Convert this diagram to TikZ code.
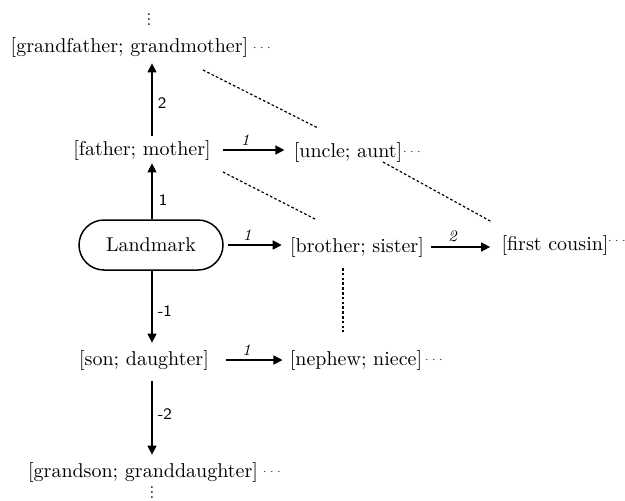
\documentclass[tikz,border=0pt]{standalone}
\usetikzlibrary{arrows.meta}
\begin{document}
\begin{tikzpicture}[x=0.5pt,y=-0.5pt,
  rel/.style={inner sep=0pt, font=\normalsize},
  more/.style={inner sep=0pt, font=\tiny},
  arr/.style={line width=0.75pt, -{Triangle[length=4.5pt,width=4.5pt]}},
  kin/.style={line width=0.6pt, dash pattern=on 1.3pt off 1.1pt},
  gen/.style={font=\sffamily\footnotesize, anchor=west, inner sep=0pt},
  deg/.style={font=\itshape\footnotesize, above, inner sep=2pt, pos=0.36},
  landmark/.style={draw, line width=0.75pt, rounded corners=12.5pt,
    minimum width=72pt, minimum height=25pt, inner sep=0pt}]
\useasboundingbox (0,0) rectangle (625,500);
\newcommand{\tinyvdots}{\vbox{\baselineskip2.5pt\lineskiplimit0pt\hbox{.}\hbox{.}\hbox{.}}}

% generations above the landmark
\node[inner sep=0pt, font=\footnotesize] (vtop) at (149,20) {\tinyvdots};
\node[rel] (gp) at (129.5,47) {[grandfather; grandmother]};
\node[more] (gpd) at (262,48) {$\cdots$};
\node[rel] (fm) at (142,150) {[father; mother]};
\node[rel] (uc) at (348,152) {[uncle; aunt]};
\node[more] (ucd) at (412,152) {$\cdots$};

% landmark and its own generation
\node[landmark] (lm) at (151,245) {Landmark};
\node[rel] (bs) at (357,247) {[brother; sister]};
\node[rel] (fc) at (555,245) {[first cousin]};
\node[more] (fcd) at (617,241) {$\cdots$};

% generations below the landmark
\node[rel] (sd) at (144,360) {[son; daughter]};
\node[rel] (np) at (356,360) {[nephew; niece]};
\node[more] (npd) at (434,360) {$\cdots$};
\node[rel] (gc) at (143,472) {[grandson; granddaughter]};
\node[more] (gcd) at (272,472) {$\cdots$};
\node[inner sep=0pt, font=\footnotesize] (vbot) at (152,493) {\tinyvdots};

% vertical generation steps
\coordinate (axis) at (152,0);
\draw[arr] ([yshift=2pt]fm.north -| axis) -- ([yshift=-3pt]gp.south -| axis)
  node[gen, pos=0.5, xshift=2.5pt, yshift=-2pt] {2};
\draw[arr] (lm.north -| axis) -- ([yshift=-1.5pt]fm.south -| axis)
  node[gen, pos=0.5, xshift=3pt, yshift=-4.5pt] {1};
\draw[arr] (lm.south -| axis) -- ([yshift=3.5pt]sd.north -| axis)
  node[gen, pos=0.5, xshift=2.5pt, yshift=-2pt] {-1};
\draw[arr] ([yshift=-5.5pt]sd.south -| axis) -- ([yshift=3.5pt]gc.north -| axis)
  node[gen, pos=0.5, xshift=2.5pt, yshift=2pt] {-2};

% horizontal kinship steps
\draw[arr] ([xshift=6pt]fm.east) -- ([xshift=-4.5pt]uc.west |- fm.east) node[deg] {1};
\draw[arr] ([xshift=2pt]lm.east) -- ([xshift=-4pt]bs.west |- lm.east) node[deg] {1};
\draw[arr] ([xshift=3.5pt]bs.east) -- ([xshift=-5.5pt]fc.west |- bs.east) node[deg] {2};
\draw[arr] ([xshift=8.5pt]sd.east) -- ([xshift=-3.5pt]np.west |- sd.east) node[deg] {1};

% collateral links
\coordinate (gpU) at (203,70);
\coordinate (ucU) at (318,128);
\coordinate (fmL) at (223,172);
\coordinate (bsU) at (317,220);
\coordinate (ucL) at (383,162);
\coordinate (fcU) at (492,222);
\coordinate (bsL) at (343,268);
\coordinate (npU) at (343,332);
\draw[kin] (gpU) -- (ucU);
\draw[kin] (fmL) -- (bsU);
\draw[kin] (ucL) -- (fcU);
\draw[kin] (bsL) -- (npU);
\end{tikzpicture}
\end{document}
